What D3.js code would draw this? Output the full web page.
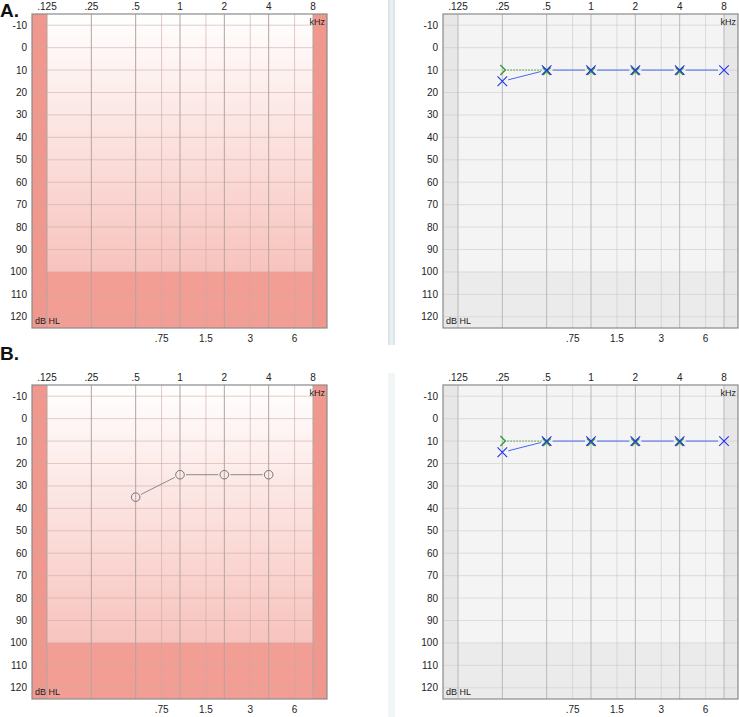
<!DOCTYPE html>
<head>
  <meta charset="utf-8">
  <title>Audiograms</title>
  <script src="https://cdn.jsdelivr.net/npm/d3@7"></script>
  <style>
  body {
    margin: 0;
    background: #fff;
    font-family: "Liberation Sans", Arial, sans-serif;
  }
  text {
    font-size: 10px;
    fill: #222;
  }
  .panel-label {
    font-size: 19px;
    font-weight: bold;
    fill: #111;
  }
  </style>
</head>
<body>
<script type="text/javascript">
// frequency ticks (kHz) and hearing levels (dB HL)
var octaveFreqs = [0.125, 0.25, 0.5, 1, 2, 4, 8];
var octaveLabels = [".125", ".25", ".5", "1", "2", "4", "8"];
var midFreqs = [0.75, 1.5, 3, 6];
var midLabels = [".75", "1.5", "3", "6"];
var dbTicks = [-10, 0, 10, 20, 30, 40, 50, 60, 70, 80, 90, 100, 110, 120];

// left ear (blue X, air conduction)
var airLeftFreqs = [0.25, 0.5, 1, 2, 4, 8];
var airLeftDb = [15, 10, 10, 10, 10, 10];
// bone conduction (green)
var boneFreqs = [0.25, 0.5, 1, 2, 4];
var boneDb = [10, 10, 10, 10, 10];
// right ear, panel B (gray circles)
var airRightFreqs = [0.5, 1, 2, 4];
var airRightDb = [35, 25, 25, 25];

var W = 739, H = 717;
var panelW = 295, panelH = 314;

var svg = d3.select("body").append("svg")
    .attr("width", W)
    .attr("height", H);

var defs = svg.append("defs");
var grad = defs.append("linearGradient")
    .attr("id", "redGrad")
    .attr("x1", 0).attr("y1", 0).attr("x2", 0).attr("y2", 1);
grad.append("stop").attr("offset", "0%").attr("stop-color", "#ffffff");
grad.append("stop").attr("offset", "100%").attr("stop-color", "#f6b6af");

// draws one audiogram panel; returns its scales
function drawPanel(x0, y0, theme) {
  var g = svg.append("g").attr("transform", "translate(" + x0 + "," + y0 + ")");
  var x = d3.scaleLog().base(2).domain([0.125, 8]).range([15, 281]);
  var y = d3.scaleLinear().domain([-15, 125]).range([0, panelH]);

  var red = theme == "red";
  var bandCol = red ? "#f0978e" : "#e7e7e7";
  var bottomCol = red ? "#f29e95" : "#ebebeb";

  // background
  g.append("rect")
      .attr("width", panelW).attr("height", panelH)
      .attr("fill", red ? "url(#redGrad)" : "#f4f4f4");
  // region below 100 dB
  g.append("rect")
      .attr("x", 0).attr("y", y(100))
      .attr("width", panelW).attr("height", panelH - y(100))
      .attr("fill", bottomCol);
  // out-of-range bands
  g.append("rect").attr("x", 0).attr("y", 0)
      .attr("width", x(0.125)).attr("height", panelH).attr("fill", bandCol);
  g.append("rect").attr("x", x(8)).attr("y", 0)
      .attr("width", panelW - x(8)).attr("height", panelH).attr("fill", bandCol);

  var gridCol = red ? "#c9a9a6" : "#c8c8c8";
  // horizontal grid
  g.selectAll(".hgrid").data(dbTicks).enter().append("line")
      .attr("x1", 0).attr("x2", panelW)
      .attr("y1", function(d) { return y(d); })
      .attr("y2", function(d) { return y(d); })
      .attr("stroke", gridCol).attr("stroke-opacity", 0.55).attr("stroke-width", 1);
  // mid-octave grid
  g.selectAll(".mgrid").data(midFreqs).enter().append("line")
      .attr("x1", function(d) { return x(d); })
      .attr("x2", function(d) { return x(d); })
      .attr("y1", 0).attr("y2", panelH)
      .attr("stroke", gridCol).attr("stroke-opacity", 0.6).attr("stroke-width", 1);
  // octave grid
  g.selectAll(".ogrid").data(octaveFreqs).enter().append("line")
      .attr("x1", function(d) { return x(d); })
      .attr("x2", function(d) { return x(d); })
      .attr("y1", 0).attr("y2", panelH)
      .attr("stroke", red ? "#b5a3a2" : "#b8b8b8").attr("stroke-width", 1);

  // frame
  g.append("rect")
      .attr("width", panelW).attr("height", panelH)
      .attr("fill", "none").attr("stroke", "#8a8a8a").attr("stroke-width", 1.2);

  // axes as text labels
  g.selectAll(".otick").data(octaveFreqs).enter().append("text")
      .attr("x", function(d) { return x(d); })
      .attr("y", -4)
      .attr("text-anchor", "middle")
      .text(function(d, i) { return octaveLabels[i]; });
  g.selectAll(".mtick").data(midFreqs).enter().append("text")
      .attr("x", function(d) { return x(d); })
      .attr("y", panelH + 14)
      .attr("text-anchor", "middle")
      .text(function(d, i) { return midLabels[i]; });
  g.selectAll(".ytick").data(dbTicks).enter().append("text")
      .attr("x", -5)
      .attr("y", function(d) { return y(d) + 3.5; })
      .attr("text-anchor", "end")
      .text(function(d) { return d; });

  g.append("text").attr("x", panelW - 2).attr("y", 11)
      .attr("text-anchor", "end").style("font-size", "9px").text("kHz");
  g.append("text").attr("x", 3).attr("y", panelH - 4)
      .style("font-size", "9px").text("dB HL");

  return {g: g, x: x, y: y};
}

// line segments between symbols, leaving a gap around each symbol
function gappedLine(p, fx, fy, gap, color, dash) {
  var pts = fx.map(function(f, i) { return [p.x(f), p.y(fy[i])]; });
  for (var i = 0; i < pts.length - 1; i++) {
    var a = pts[i], b = pts[i + 1];
    var dx = b[0] - a[0], dy = b[1] - a[1];
    var len = Math.sqrt(dx * dx + dy * dy);
    var ux = dx / len, uy = dy / len;
    p.g.append("line")
        .attr("x1", a[0] + ux * gap).attr("y1", a[1] + uy * gap)
        .attr("x2", b[0] - ux * gap).attr("y2", b[1] - uy * gap)
        .attr("stroke", color).attr("stroke-width", 1)
        .attr("stroke-dasharray", dash || null);
  }
}

function crosses(p, fx, fy, size, color, width, dy) {
  p.g.selectAll(null).data(fx).enter().append("path")
      .attr("transform", function(d, i) { return "translate(" + p.x(d) + "," + (p.y(fy[i]) + (dy || 0)) + ")"; })
      .attr("d", "M" + (-size) + "," + (-size) + "L" + size + "," + size +
                 "M" + (-size) + "," + size + "L" + size + "," + (-size))
      .attr("stroke", color).attr("stroke-width", width).attr("fill", "none");
}

function drawLeftEar(p) {
  // bone conduction: bracket at first freq, then x marks
  gappedLine(p, boneFreqs.slice(0, 2), boneDb.slice(0, 2), 5, "#3d9a3d", "1.5,1.5");
  var b0x = p.x(boneFreqs[0]), b0y = p.y(boneDb[0]);
  p.g.append("path")
      .attr("d", "M" + (b0x - 2) + "," + (b0y - 5) + "L" + (b0x + 3) + "," + b0y + "L" + (b0x - 2) + "," + (b0y + 5))
      .attr("stroke", "#3d9a3d").attr("stroke-width", 1.5).attr("fill", "none");

  gappedLine(p, airLeftFreqs, airLeftDb, 6, "#4a66ee");
  crosses(p, boneFreqs.slice(1), boneDb.slice(1), 3.8, "#3d9a3d", 2, 1);
  crosses(p, airLeftFreqs, airLeftDb, 4.8, "#2233ee", 1.1, 0);
}

function drawRightEar(p) {
  gappedLine(p, airRightFreqs, airRightDb, 6, "#8a8a8a");
  p.g.selectAll(null).data(airRightFreqs).enter().append("circle")
      .attr("cx", function(d) { return p.x(d); })
      .attr("cy", function(d, i) { return p.y(airRightDb[i]); })
      .attr("r", 4.3)
      .attr("fill", "none").attr("stroke", "#777").attr("stroke-width", 1);
}

// dividers between the two columns
svg.append("rect").attr("x", 388).attr("y", 0).attr("width", 7).attr("height", 345)
    .attr("fill", "#dbe6ea");
svg.append("rect").attr("x", 390).attr("y", 0).attr("width", 3).attr("height", 345)
    .attr("fill", "#e9f0f2");
svg.append("rect").attr("x", 388).attr("y", 373).attr("width", 7).attr("height", 344)
    .attr("fill", "#f1f5f6");

svg.append("text").attr("class", "panel-label").attr("x", 0).attr("y", 17).text("A.");
svg.append("text").attr("class", "panel-label").attr("x", 0).attr("y", 360).text("B.");

var pa1 = drawPanel(32, 14, "red");
var pa2 = drawPanel(443, 14, "gray");
drawLeftEar(pa2);

var pb1 = drawPanel(32, 385, "red");
drawRightEar(pb1);
var pb2 = drawPanel(443, 385, "gray");
drawLeftEar(pb2);
</script>
</body>
</html>
